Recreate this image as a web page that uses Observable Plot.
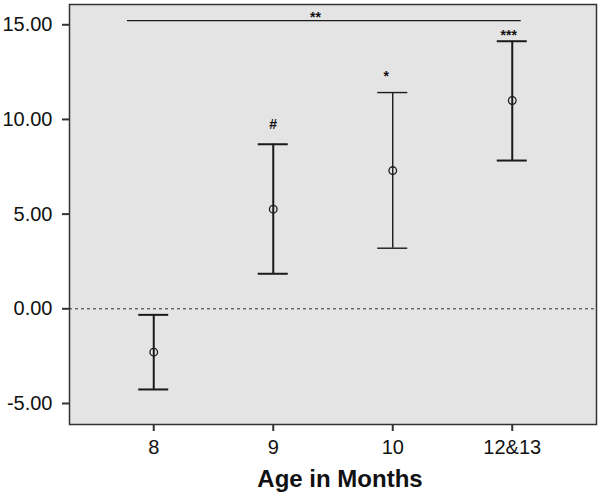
<!DOCTYPE html>
<html><head><meta charset="utf-8">
<script src="https://cdn.jsdelivr.net/npm/d3@7"></script>
<script src="https://cdn.jsdelivr.net/npm/@observablehq/plot@0.6"></script>
<style>body{margin:0;background:#fff;}</style>
</head><body><div id="chart"></div>
<script>
// Age groups (x categories)
const categories = ["8", "9", "10", "12&13"];
// Means and error bar limits
const means = [-2.29, 5.26, 7.30, 11.00];
const lower = [-4.26, 1.85, 3.20, 7.83];
const upper = [-0.32, 8.69, 11.42, 14.13];
// Y tick values
const yTicks = [-5, 0, 5, 10, 15];
// Significance annotations (x in category-index units, y = text baseline)
const annText = ["#", "*", "***", "**"];
const annX = [1.0, 1.945, 2.971, 1.353];
const annY = [9.49, 12.02, 14.22, 15.17];
// Significance bracket spanning groups
const bracketFrom = [-0.22];
const bracketTo = [3.075];
const bracketY = [15.22];

const data = categories.map((c, i) => ({i, cat: c, mean: means[i], lo: lower[i], hi: upper[i]}));
const ann = annText.map((t, k) => ({t, x: annX[k], y: annY[k]}));
const bracket = bracketFrom.map((f, k) => ({x1: f, x2: bracketTo[k], y: bracketY[k]}));
const sw = d => d.cat === "10" ? 1.4 : 2;

const chart = Plot.plot({
  width: 600, height: 492,
  marginLeft: 69, marginRight: 4, marginTop: 4, marginBottom: 68,
  style: {fontFamily: "'Liberation Sans', Arial, sans-serif", fontSize: "20px", background: "#fff", color: "#111"},
  x: {type: "linear", domain: [-0.705, 3.705], axis: null},
  y: {domain: [-6.11, 16.07], axis: null},
  marks: [
    Plot.frame({fill: "#e4e4e4", stroke: "none"}),
    Plot.ruleY([0], {stroke: "#333", strokeDasharray: "3,3", strokeWidth: 1}),
    Plot.ruleX(data, {x: "i", y1: "lo", y2: "hi", stroke: "#1a1a1a", strokeWidth: sw}),
    Plot.ruleY(data, {x1: "i", x2: "i", y: "hi", insetLeft: -15, insetRight: -15, stroke: "#1a1a1a", strokeWidth: sw}),
    Plot.ruleY(data, {x1: "i", x2: "i", y: "lo", insetLeft: -15, insetRight: -15, stroke: "#1a1a1a", strokeWidth: sw}),
    Plot.dot(data, {x: "i", y: "mean", r: 3.8, stroke: "#1a1a1a", fill: "none", strokeWidth: 1.3}),
    Plot.ruleY(bracket, {x1: "x1", x2: "x2", y: "y", stroke: "#1a1a1a", strokeWidth: 1.2}),
    Plot.text(ann, {x: "x", y: "y", text: "t", lineAnchor: "bottom", fontSize: 14, fontWeight: "bold", fill: "#111"}),
    Plot.axisY(yTicks, {tickSize: 7, tickPadding: 10, tickFormat: d => d.toFixed(2), strokeWidth: 2, stroke: "#333", fontSize: 20, label: null}),
    Plot.axisX(d3.range(categories.length), {tickSize: 7, tickPadding: 8, tickFormat: i => categories[i], strokeWidth: 2, stroke: "#333", fontSize: 20, label: null}),
    Plot.frame({stroke: "#333", strokeWidth: 1.5}),
    Plot.text(["Age in Months"], {frameAnchor: "bottom", lineAnchor: "bottom", dy: 62, dx: 7, fontWeight: "bold", fontSize: 24, fill: "#111"})
  ]
});
document.getElementById("chart").appendChild(chart);
</script>
</body></html>
